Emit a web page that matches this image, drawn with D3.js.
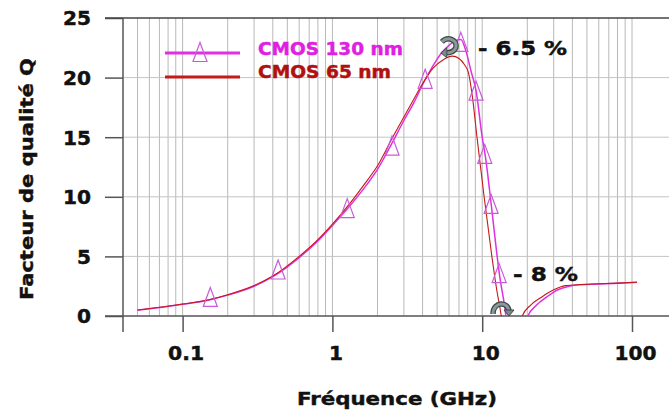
<!DOCTYPE html>
<html><head><meta charset="utf-8">
<script src="https://cdn.jsdelivr.net/npm/d3@7"></script>
<style>body{margin:0;background:#fff}svg{display:block}text{font-family:"DejaVu Sans",Verdana,sans-serif;font-weight:bold}</style>
</head><body>
<svg id="c" width="669" height="412"></svg>
<script>
// ---- data ----
const freq130 = [0.05,0.1,0.15,0.2,0.3,0.4,0.6,0.8,1.0,1.3,1.6,2.0,2.5,3.0,3.5,4.0,4.7,5.3,6.0,6.6,7.2,7.8,8.4,9.1,10,10.5,11.5,12.5,13.0,14.4,16,18,20.2,23,27,32,38,45,60,80,108];
const q130    = [0.48,0.98,1.35,1.75,2.5,3.3,4.9,6.3,7.6,9.2,10.6,12.3,14.5,16.4,17.9,19.4,21.0,22.0,22.7,23.1,23.2,22.2,20.6,18.9,15.0,13.4,9.3,5.3,3.6,0,-6,-4,0,0.9,1.6,2.2,2.5,2.62,2.68,2.75,2.83];
const freq65  = [0.05,0.1,0.15,0.2,0.3,0.4,0.6,0.8,1.0,1.3,1.6,2.0,2.5,3.0,3.5,4.0,4.7,5.5,6.3,7.0,7.6,8.1,8.6,9.25,10.3,11.6,12.5,13.4,15,17,18.5,21,25,30,36,45,60,80,108];
const q65     = [0.5,1.0,1.37,1.78,2.55,3.35,5.0,6.4,7.7,9.4,10.9,12.6,14.9,16.7,18.2,19.5,20.8,21.5,21.8,21.6,21.1,20.4,18.4,14.9,10.0,5.0,2.2,0,-6,-3,0,0.9,1.6,2.2,2.55,2.64,2.7,2.76,2.83];
const markerFreq = [0.153,0.434,1.256,2.5,4.16,7.2,9.1,10.4,11.47,12.97];
const markerQ    = [1.6,3.9,9.05,14.3,19.9,23.0,18.9,13.6,9.4,3.6];
const xTicks = [0.1,1,10,100];
const xTickLabels = ["0.1","1","10","100"];
const yTicks = [0,5,10,15,20,25];
const seriesNames = ["CMOS 130 nm","CMOS 65 nm"];
const annotations = [{f:7.2,q:23.0,text:"- 6.5 %"},{f:13.0,q:3.0,text:"- 8 %"}];

// ---- layout ----
const svg = d3.select("#c");
const x = d3.scaleLog().domain([0.04,100]).range([123,632]);
const y = d3.scaleLinear().domain([0,25]).range([316,18]);
const L=123, R=669, T=18, B=316;
const labW = s => s.replace(/[^0-9]/g,"").length*14 + (s.split(".").length-1)*8;
function bold(sel, fill){ return sel.attr("fill",fill).attr("stroke",fill).attr("stroke-width",0.45).attr("font-weight","bold").attr("font-family","'DejaVu Sans',sans-serif"); }

// gridlines
const grid = [];
for (let d=0.01; d<=100; d*=10) for (let k=1;k<=9;k++){const v=+(k*d).toPrecision(3); if (x(v)>L+1 && x(v)<R) grid.push(v);}
svg.append("g").selectAll("line").data(grid).join("line")
  .attr("x1",d=>x(d)).attr("x2",d=>x(d)).attr("y1",T).attr("y2",B)
  .attr("stroke","#b8b8b8").attr("stroke-width",1);
svg.append("g").selectAll("line").data(yTicks.filter(v=>v>0&&v<25)).join("line")
  .attr("x1",L).attr("x2",R).attr("y1",d=>y(d)).attr("y2",d=>y(d))
  .attr("stroke","#c4c4c4").attr("stroke-width",1);

// axes
const yAxis = d3.axisLeft(y).tickValues(yTicks).tickSize(18).tickSizeOuter(0).tickPadding(14);
const gy = svg.append("g").attr("transform",`translate(${L},0)`).call(yAxis);
gy.select(".domain").remove();
gy.selectAll(".tick line").attr("stroke","#555").attr("stroke-width",1.5);
bold(gy.selectAll("text"),"#111").attr("font-size",19).attr("dy","0.36em")
  .attr("textLength",function(){return labW(this.textContent);}).attr("lengthAdjust","spacingAndGlyphs");

const xAxis = d3.axisBottom(x).tickValues(xTicks).tickFormat((d,i)=>xTickLabels[i]).tickSize(16).tickSizeOuter(0);
const gx = svg.append("g").attr("transform",`translate(0,${B})`).call(xAxis);
gx.select(".domain").remove();
gx.selectAll(".tick line").attr("stroke","#555").attr("stroke-width",1.5);
bold(gx.selectAll("text"),"#111").attr("font-size",19).attr("y",44).attr("dy",null).attr("dx",3)
  .attr("textLength",function(){return labW(this.textContent);}).attr("lengthAdjust","spacingAndGlyphs");

// frame lines
svg.append("line").attr("x1",105).attr("x2",R).attr("y1",T).attr("y2",T).attr("stroke","#444").attr("stroke-width",1.5);
svg.append("line").attr("x1",105).attr("x2",R).attr("y1",B).attr("y2",B).attr("stroke","#555").attr("stroke-width",1.5);
svg.append("line").attr("x1",L).attr("x2",L).attr("y1",T).attr("y2",332).attr("stroke","#555").attr("stroke-width",1.5);

// clip
svg.append("clipPath").attr("id","clip").append("rect").attr("x",L).attr("y",T).attr("width",R-L).attr("height",B-T);

const line = d3.line().x(d=>x(d[0])).y(d=>y(d[1])).curve(d3.curveMonotoneX);
const plot = svg.append("g").attr("clip-path","url(#clip)");
plot.append("path").datum(freq130.map((f,i)=>[f,q130[i]])).attr("d",line)
  .attr("fill","none").attr("stroke","#e030e0").attr("stroke-width",1.5);
plot.append("path").datum(freq65.map((f,i)=>[f,q65[i]])).attr("d",line)
  .attr("fill","none").attr("stroke","#c41a1a").attr("stroke-width",1.1);

const tri = "M0,-9.5L7,9.5L-7,9.5Z";
plot.append("g").selectAll("path").data(markerFreq.map((f,i)=>[f,markerQ[i]])).join("path")
  .attr("d",tri).attr("transform",d=>`translate(${x(d[0])},${y(d[1])})`)
  .attr("fill","none").attr("stroke","#c85cd8").attr("stroke-width",1.2);

// legend
const lg = svg.append("g");
lg.append("line").attr("x1",165).attr("x2",240).attr("y1",53).attr("y2",53).attr("stroke","#e030e0").attr("stroke-width",3);
lg.append("path").attr("d",tri).attr("transform","translate(200,52)").attr("fill","none").attr("stroke","#c85cd8").attr("stroke-width",1.2);
lg.append("line").attr("x1",165).attr("x2",240).attr("y1",77).attr("y2",77).attr("stroke","#c41a1a").attr("stroke-width",3);
bold(lg.append("text"),"#e020e0").attr("x",258).attr("y",55).attr("font-size",17).attr("textLength",145).attr("lengthAdjust","spacingAndGlyphs").text(seriesNames[0]);
bold(lg.append("text"),"#b01010").attr("x",258).attr("y",78).attr("font-size",17).attr("textLength",133).attr("lengthAdjust","spacingAndGlyphs").text(seriesNames[1]);

// arrows (decorative)
const ax1 = x(annotations[0].f)-12, ay1 = y(annotations[0].q)+6;
const a1 = `M${ax1-7},${ay1-6} C${ax1-1},${ay1-12} ${ax1+9},${ay1-8} ${ax1+7},${ay1} C${ax1+5},${ay1+4} ${ax1+1},${ay1+5} ${ax1-2},${ay1+5}`;
svg.append("path").attr("d",a1).attr("fill","none").attr("stroke","#3e4848").attr("stroke-width",5.5);
svg.append("path").attr("d",a1).attr("fill","none").attr("stroke","#8a9a9a").attr("stroke-width",3);
svg.append("path").attr("d",`M${ax1-2},${ay1} L${ax1-8},${ay1+5} L${ax1-2},${ay1+10}Z`).attr("fill","#7a8a8a").attr("stroke","#3e4848").attr("stroke-width",1);

const bx = 501, by = 316;
const a2 = `M${bx-8},${by-2} C${bx-8},${by-15} ${bx+8},${by-15} ${bx+8},${by-4}`;
svg.append("path").attr("d",a2).attr("fill","none").attr("stroke","#3e4848").attr("stroke-width",5.5);
svg.append("path").attr("d",a2).attr("fill","none").attr("stroke","#8a9a9a").attr("stroke-width",3);
svg.append("path").attr("d",`M${bx+3},${by-6} L${bx+13},${by-6} L${bx+8},${by}Z`).attr("fill","#7a8a8a").attr("stroke","#3e4848").attr("stroke-width",1);

// annotation texts
bold(svg.append("text"),"#111").attr("x",478).attr("y",55).attr("font-size",19).attr("textLength",89).attr("lengthAdjust","spacingAndGlyphs").text(annotations[0].text);
bold(svg.append("text"),"#111").attr("x",513).attr("y",281).attr("font-size",19).attr("textLength",65).attr("lengthAdjust","spacingAndGlyphs").text(annotations[1].text);

// titles
bold(svg.append("text"),"#111").attr("x",297).attr("y",405).attr("font-size",18).attr("textLength",200).attr("lengthAdjust","spacingAndGlyphs").text("Fréquence (GHz)");
bold(svg.append("text"),"#111").attr("transform","translate(33,300) rotate(-90)").attr("font-size",18).attr("textLength",242).attr("lengthAdjust","spacingAndGlyphs").text("Facteur de qualité Q");
</script>
</body></html>
